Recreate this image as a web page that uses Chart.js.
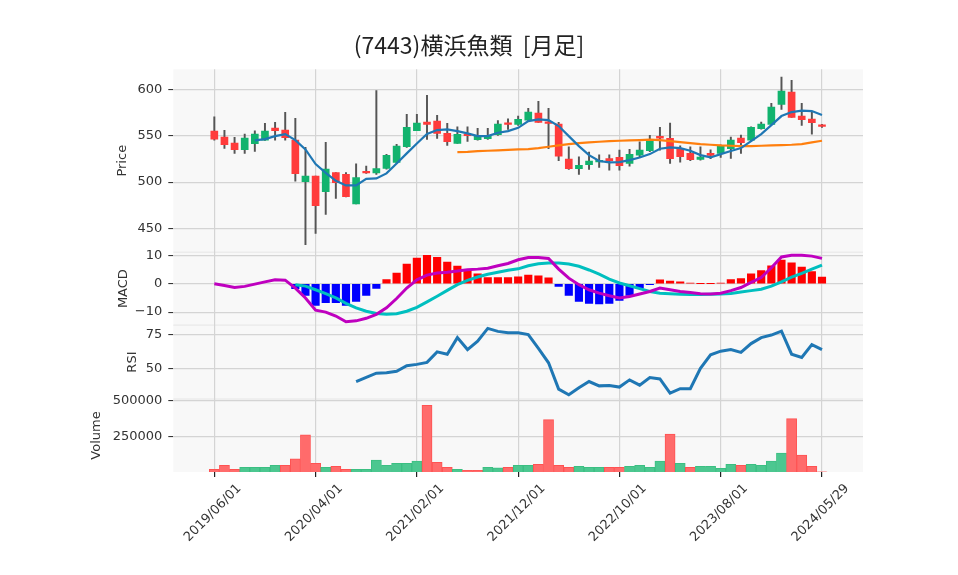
<!DOCTYPE html>
<html>
<head>
<meta charset="utf-8">
<script src="https://cdn.jsdelivr.net/npm/chart.js@4.4.1/dist/chart.umd.min.js"></script>
<style>
  html, body { margin: 0; padding: 0; background: #fff; }
  canvas { display: block; }
</style>
</head>
<body>
<canvas id="chart" width="958" height="575"></canvas>
<script>
const labels = [
  '2019/06/01','2019/07/01','2019/08/01','2019/09/01','2019/10/01','2019/11/01','2019/12/01',
  '2020/01/01','2020/02/01','2020/03/01','2020/04/01','2020/05/01','2020/06/01','2020/07/01',
  '2020/08/01','2020/09/01','2020/10/01','2020/11/01','2020/12/01','2021/01/01','2021/02/01',
  '2021/03/01','2021/04/01','2021/05/01','2021/06/01','2021/07/01','2021/08/01','2021/09/01',
  '2021/10/01','2021/11/01','2021/12/01','2022/01/01','2022/02/01','2022/03/01','2022/04/01',
  '2022/05/01','2022/06/01','2022/07/01','2022/08/01','2022/09/01','2022/10/01','2022/11/01',
  '2022/12/01','2023/01/01','2023/02/01','2023/03/01','2023/04/01','2023/05/01','2023/06/01',
  '2023/07/01','2023/08/01','2023/09/01','2023/10/01','2023/11/01','2023/12/01','2024/01/01',
  '2024/02/01','2024/03/01','2024/04/01','2024/05/01','2024/05/29'
];
const tickIndex = [0, 10, 20, 30, 40, 50, 60];

const opens = [555, 548.6, 542, 534.9, 541.4, 545.3, 558.3, 556.1, 545.3, 500.4,
  506.5, 489.6, 510.4, 508.3, 476.6, 510.8, 510, 514.7, 521.2, 538.1,
  555.4, 564.7, 565.8, 552.5, 541.7, 551.4, 545.7, 546.8, 551.1, 562.9,
  562.2, 566.9, 574.5, 564.7, 562.6, 524.8, 514.4, 518.7, 521.9, 525.5,
  526.6, 520.1, 529.1, 533.8, 549.3, 547.1, 535.3, 530.9, 524.5, 530.9,
  530.9, 536, 547.5, 545.3, 557.6, 562.2, 583.8, 597.1, 571.2, 568, 560.4];
const highs = [570.5, 555.8, 548.2, 551.8, 555.4, 563.3, 564.4, 575.2, 568.7, 537.4,
  506.5, 542.8, 510.4, 510.4, 519.8, 517.3, 598.6, 529.9, 540.6, 573,
  573, 593.5, 572, 563.3, 559.7, 559.7, 557.9, 557.9, 566.2, 568.3,
  571.2, 579.5, 587, 579.5, 564.4, 538.1, 527.3, 532.4, 529.5, 529.5,
  534.5, 535.3, 543.5, 550.4, 559, 563.7, 539.2, 538.1, 538.1, 534.9,
  540.3, 548.6, 550.7, 559.7, 564.7, 584.9, 613.3, 609.7, 584.9, 575.2, 562.2];
const lows = [545.3, 536.3, 531, 531, 533, 545, 545.3, 545.3, 501, 432.7,
  444.6, 465.1, 482.4, 484, 476.6, 509.4, 508.3, 514, 520.1, 537.4,
  555.4, 546, 547, 539.6, 541.7, 543.9, 545.3, 546, 550.4, 556.8,
  561.2, 566.2, 564.4, 536, 523, 513.7, 508.3, 513.7, 515.8, 513,
  513, 517.3, 527.3, 532.7, 534.5, 520.1, 521.6, 523, 523.7, 525.2,
  526.6, 525.5, 530.9, 544.6, 557.2, 562.2, 578.4, 569.8, 561.1, 551.8, 559];
const closes = [546.4, 540.3, 534.9, 547.5, 551.8, 555, 555.4, 547.8, 509, 506.5,
  474.5, 514, 499.3, 484.2, 505, 510, 514.7, 528.8, 538.8, 559,
  563.7, 562.2, 552.5, 543.5, 551.4, 550, 549.3, 549.6, 562.6, 562.2,
  567.6, 575.5, 564.4, 563.3, 528, 514.4, 518, 522.7, 523.5, 523,
  517.6, 529.9, 534.5, 544.2, 547.5, 525.2, 527.3, 524.1, 527, 528.8,
  538.8, 545.3, 542.4, 559, 562.6, 580.9, 598.2, 569.8, 567.3, 564, 560];

const ma5 = [null, null, null, null, 545, 546.4, 549.6, 551.8, 545.3, 535.3,
  519.4, 510, 501.4, 496.4, 496.4, 503.6, 504, 509.4, 520.1, 531,
  541.7, 551.8, 556.1, 556.8, 555, 552.5, 549.6, 549.6, 553.2, 555,
  558.5, 565.8, 567.6, 566.9, 560.4, 549.6, 538.8, 529.1, 522.7, 521.2,
  521.6, 523.7, 526.6, 530.2, 536, 537.4, 536.7, 533.8, 529.1, 526.6,
  530.2, 533.5, 536.7, 544.2, 551.8, 561.5, 571.2, 575.5, 577, 576.6, 572.3];
const ma25 = [null, null, null, null, null, null, null, null, null, null,
  null, null, null, null, null, null, null, null, null, null,
  null, null, null, null, 532.4, 532.7, 533.3, 533.8, 534.2, 534.7,
  535.2, 535.6, 536.7, 538.1, 539.6, 541, 542.1, 542.8, 543.5, 544.2,
  544.6, 545, 545.3, 545.7, 545.3, 544.2, 543.2, 542.1, 541, 540.3,
  539.6, 539.2, 538.8, 538.8, 539.2, 539.6, 539.9, 540.3, 541, 542.8, 544.6];

const macd = [0, -0.6, -1.3, -0.9, -0.1, 0.7, 1.4, 1.3, -1.5, -5,
  -9.3, -10, -11.4, -13.4, -13.1, -12.2, -10.8, -8.5, -5.2, -1.5,
  1.4, 3.1, 3.8, 4.1, 4.5, 5, 5.2, 5.5, 6.4, 7.2,
  8.5, 9.3, 9.3, 9, 5.2, 2, -0.3, -2.1, -3.3, -4.2,
  -5, -4.5, -3.6, -2.7, -1.5, -2.1, -2.7, -3.1, -3.5, -3.6,
  -3.3, -2.4, -1.3, 0.5, 2.2, 5.7, 9.5, 10.1, 10.1, 9.8, 9];
const signal = [null, null, null, null, null, null, null, null, -0.3, -0.8,
  -2.1, -3.5, -5, -6.9, -8.5, -9.7, -10.5, -10.8, -10.6, -9.7,
  -8.3, -6.4, -4.4, -2.3, -0.3, 1.2, 2.4, 3.4, 4.1, 4.8,
  5.3, 6.4, 7.1, 7.4, 7.4, 7, 6.2, 4.9, 3.4, 1.7,
  0.3, -0.7, -1.7, -2.7, -3.3, -3.5, -3.7, -3.8, -3.8, -3.7,
  -3.6, -3.4, -2.9, -2.4, -1.9, -0.8, 0.7, 2.4, 3.7, 5.2, 6.6];
const histogram = [null, null, null, null, null, null, null, null, -1.7, -4.1,
  -7.6, -6.7, -6.7, -7.6, -6.2, -4.1, -1.6, 1.5, 3.8, 7,
  9.1, 10.1, 9.4, 7.7, 6.3, 4.9, 3.5, 2.2, 2.2, 2.2,
  2.5, 3.1, 2.8, 2.1, -0.9, -4.1, -6.2, -6.9, -7.1, -6.9,
  -5.9, -4.1, -1.5, -0.3, 1.4, 1, 0.7, 0.3, 0.05, 0.05,
  0.3, 1.5, 1.9, 3.5, 4.7, 6.4, 8.4, 7.4, 5.9, 4.3, 2.4];

const rsi = [null, null, null, null, null, null, null, null, null, null,
  null, null, null, null, 40.3, 43.4, 46.4, 46.8, 47.8, 51.9,
  52.9, 54.4, 62.1, 60.4, 72.6, 63.8, 69.9, 79.4, 77.2, 76.2,
  76.2, 74.8, 64.6, 54.1, 34.7, 30.6, 35.7, 40.3, 37.1, 37.4,
  36.2, 41.5, 37.6, 43.2, 42.2, 31.8, 35, 35, 50, 60,
  62.6, 63.8, 61.7, 68.2, 72.6, 74.5, 77.4, 60.4, 58, 67.5, 63.8];

const volumes = [19000, 47600, 19000, 33300, 33300, 33300, 47600, 47600, 92900, 262000,
  61900, 33300, 40500, 19000, 19000, 19000, 83300, 47600, 61900, 61900,
  76200, 469000, 69000, 33300, 19000, 11900, 11900, 33300, 28600, 33300,
  47600, 47600, 54800, 369000, 47600, 33300, 40500, 33300, 33300, 33300,
  33300, 40500, 47600, 33300, 76200, 267000, 61900, 33300, 40500, 40500,
  26200, 54800, 47600, 54800, 47600, 76200, 133000, 376000, 119000, 40500, 2000];

const UP = '#12b36e', DOWN = '#ff3b3b';
const VOL_UP = '#4cc790', VOL_DOWN = '#ff6b6b';
const GRID = '#d4d4d4';
const FONT = "'DejaVu Sans'";

const points = (arr) => arr.map((v, i) => ({ x: i, y: v })).filter(p => p.y !== null);
const candleUp = closes.map((c, i) => c >= opens[i]);
const volUp = closes.map((c, i) => i > 0 && c >= closes[i - 1]);

const panelPlugin = {
  id: 'panels',
  beforeDraw(chart) {
    const { ctx, chartArea } = chart;
    ctx.save();
    ctx.fillStyle = '#f8f8f8';
    ctx.fillRect(chartArea.left, chartArea.top, chartArea.width, chartArea.height);
    ctx.strokeStyle = '#e6e6e6';
    ctx.lineWidth = 1;
    ['yMacd', 'yRsi', 'yVol'].forEach(id => {
      const y = chart.scales[id].top;
      ctx.beginPath();
      ctx.moveTo(chartArea.left, y);
      ctx.lineTo(chartArea.right, y);
      ctx.stroke();
    });
    ctx.restore();
  },
  afterDraw(chart) {
    const { ctx } = chart;
    ctx.save();
    ctx.fillStyle = '#222';
    ctx.font = "23px 'Noto Sans CJK JP'";
    ctx.textAlign = 'center';
    ctx.textBaseline = 'middle';
    ctx.fillText('(7443)横浜魚類  [月足]', 469, 45);
    ctx.restore();
  }
};

function yAxis(title, weight, stackWeight, min, max, ticks, titlePad) {
  return {
    type: 'linear',
    position: 'left',
    stack: 'panels',
    stackWeight: stackWeight,
    weight: weight,
    min: min,
    max: max,
    afterBuildTicks: (axis) => { axis.ticks = ticks.map(v => ({ value: v })); },
    afterFit: (axis) => { axis.width = 173.3; },
    grid: { color: GRID, lineWidth: 1.2, tickColor: '#222', tickLength: 5, tickWidth: 1 },
    border: { display: false },
    ticks: {
      color: '#333', font: { family: FONT, size: 13 }, padding: 6,
      callback: (v) => String(v).replace('-', '\u2212')
    },
    title: {
      display: true, text: title, color: '#333',
      font: { family: FONT, size: 13 }, padding: { top: titlePad, bottom: 0 }
    }
  };
}

new Chart(document.getElementById('chart'), {
  data: {
    datasets: [
      {
        type: 'line', data: points(ma5), yAxisID: 'yPrice', order: 0,
        borderColor: '#1f77b4', borderWidth: 2.2, pointRadius: 0
      },
      {
        type: 'line', data: points(ma25), yAxisID: 'yPrice', order: 0,
        borderColor: '#ff7f0e', borderWidth: 2.2, pointRadius: 0
      },
      {
        type: 'bar', data: opens.map((o, i) => ({ x: i, y: [o, closes[i]] })), yAxisID: 'yPrice', order: 2,
        backgroundColor: candleUp.map(u => u ? UP : DOWN), barThickness: 7, minBarLength: 1.5, grouped: false
      },
      {
        type: 'bar', data: lows.map((l, i) => ({ x: i, y: [l, highs[i]] })), yAxisID: 'yPrice', order: 3,
        backgroundColor: '#555', barThickness: 1.3, grouped: false
      },
      {
        type: 'line', data: points(macd), yAxisID: 'yMacd', order: 0,
        borderColor: '#bf00bf', borderWidth: 3, pointRadius: 0
      },
      {
        type: 'line', data: points(signal), yAxisID: 'yMacd', order: 0,
        borderColor: '#00bfbf', borderWidth: 3, pointRadius: 0
      },
      {
        type: 'bar', data: points(histogram), yAxisID: 'yMacd', order: 2,
        backgroundColor: histogram.filter(v => v !== null).map(v => v >= 0 ? '#ff0000' : '#0000ff'),
        barThickness: 7.5, grouped: false
      },
      {
        type: 'line', data: points(rsi), yAxisID: 'yRsi', order: 0,
        borderColor: '#1f77b4', borderWidth: 3, pointRadius: 0
      },
      {
        type: 'bar', data: points(volumes), yAxisID: 'yVol', order: 2,
        backgroundColor: volUp.map(u => u ? VOL_UP : VOL_DOWN),
        borderColor: volUp.map(u => u ? '#3bbf82' : '#ff5252'),
        borderWidth: 1, barThickness: 10.1, grouped: false
      }
    ]
  },
  options: {
    responsive: false,
    animation: false,
    devicePixelRatio: 1,
    layout: { padding: { top: 69.3, right: 95, bottom: 0, left: 0 } },
    plugins: { legend: { display: false }, tooltip: { enabled: false } },
    scales: {
      x: {
        type: 'linear',
        offset: false,
        min: -4.05,
        max: 64.05,
        afterBuildTicks: (axis) => { axis.ticks = tickIndex.map(v => ({ value: v })); },
        afterFit: (axis) => { axis.height = 103; },
        grid: { offset: false, color: GRID, lineWidth: 1.2, tickColor: '#222', tickLength: 5 },
        border: { display: false },
        ticks: {
          color: '#333', font: { family: FONT, size: 13 },
          autoSkip: false, maxRotation: 45, minRotation: 45, padding: 4, labelOffset: 25,
          callback: (v) => labels[v]
        }
      },
      yPrice: yAxis('Price', 4, 183, 424.5, 621.6, [450, 500, 550, 600], 114.9),
      yMacd: yAxis('MACD', 3, 73, -14.6, 11.2, [-10, 0, 10], 115.5),
      yRsi: yAxis('RSI', 2, 74, 27.4, 81.8, [50, 75], 124.5),
      yVol: yAxis('Volume', 1, 73, 0, 514000, [250000, 500000], 88.9)
    }
  },
  plugins: [panelPlugin]
});
</script>
</body>
</html>
